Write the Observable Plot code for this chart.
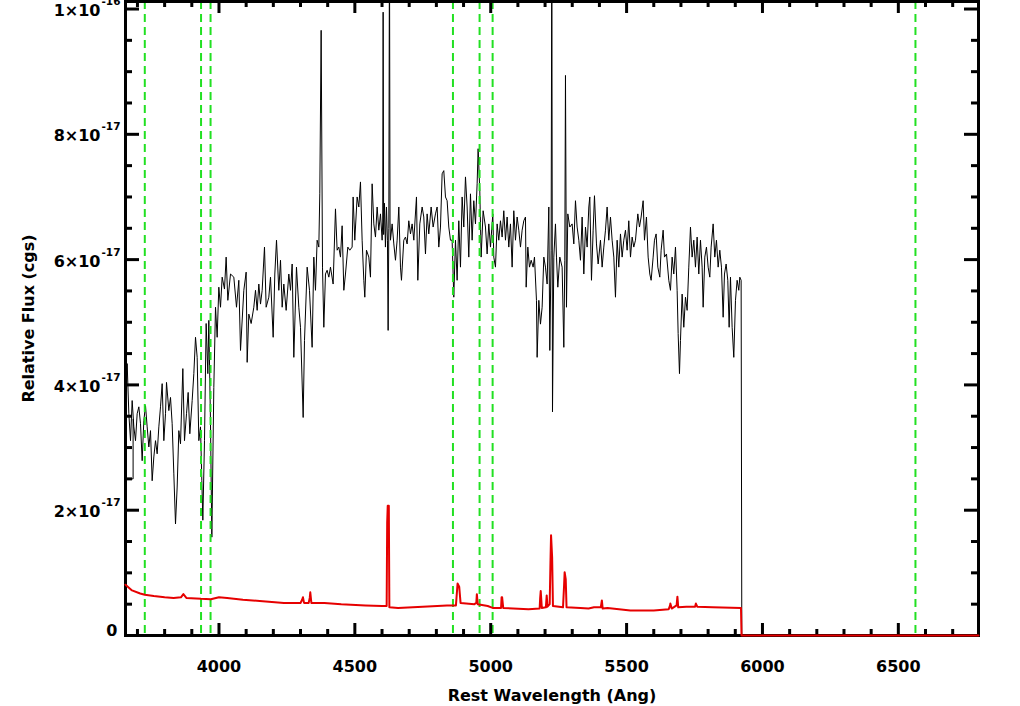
<!DOCTYPE html>
<html><head><meta charset="utf-8">
<script src="https://cdn.jsdelivr.net/npm/d3@7"></script>
<script src="https://cdn.jsdelivr.net/npm/@observablehq/plot@0.6"></script>
<style>html,body{margin:0;padding:0;background:#fff;} #chart{width:1020px;height:706px;overflow:hidden;}</style>
</head><body><div id="chart"></div>
<script>
// Flux values are in units of 1e-17 (cgs)
const blackWave = [3654,3656.0,3662.1,3668.3,3674.4,3680.5,3686.7,3692.8,3698.9,3705.1,3711.2,3717.3,3723.5,3729.6,3735.7,3741.9,3748.0,3754.1,3760.3,3766.4,3772.5,3778.7,3784.8,3790.9,3797.1,3803.2,3806.9,3815.5,3821.6,3827.7,3833.9,3840.0,3846.1,3852.3,3858.4,3867.0,3873.1,3880.5,3886.6,3892.7,3901.3,3907.5,3913.6,3919.7,3925.9,3932.0,3936.9,3940.6,3946.7,3952.8,3959.0,3962.6,3968.8,3973.7,3981.0,3987.2,3993.3,3999.4,4005.6,4011.7,4020.3,4026.4,4032.6,4042.4,4054.6,4064.5,4073.0,4079.2,4091.4,4100.0,4103.7,4109.8,4118.4,4128.2,4134.4,4140.5,4146.6,4152.8,4158.9,4167.5,4173.6,4183.4,4189.6,4199.4,4205.5,4211.7,4220.2,4226.4,4232.5,4238.6,4247.2,4257.0,4263.2,4269.3,4275.4,4285.2,4293.8,4300.0,4309.8,4314.7,4324.5,4333.1,4342.8,4349.0,4355.1,4361.2,4367.4,4371.0,4376.0,4381.0,4385.8,4391.9,4398.0,4404.2,4410.3,4420.1,4428.7,4434.8,4441.0,4447.1,4453.2,4459.4,4465.5,4474.1,4481.4,4490.0,4493.7,4499.8,4508.4,4514.6,4520.7,4526.8,4533.0,4536.6,4542.8,4551.4,4557.5,4563.6,4569.8,4575.9,4582.0,4588.2,4594.3,4600.4,4602.5,4604.1,4606.0,4609.0,4612.5,4616.4,4620.0,4622.5,4625.0,4627.4,4629.5,4631.1,4637.2,4643.4,4649.5,4655.6,4661.8,4667.9,4671.6,4680.1,4686.3,4692.4,4698.5,4704.7,4710.8,4717.0,4726.8,4731.7,4739.0,4747.6,4753.7,4759.9,4766.0,4772.1,4780.7,4788.1,4796.7,4802.8,4808.9,4815.1,4821.2,4827.3,4833.5,4839.6,4845.7,4851.9,4858.0,4864.1,4870.3,4876.4,4882.5,4888.7,4894.8,4900.9,4907.1,4913.2,4919.3,4925.5,4931.6,4937.7,4943.9,4950.0,4953.7,4959.8,4964.7,4972.1,4980.7,4986.8,4992.9,4999.1,5007.7,5011.3,5017.5,5023.6,5029.7,5035.9,5042.0,5048.1,5054.3,5060.4,5066.5,5072.7,5078.8,5084.9,5091.1,5097.2,5103.3,5109.5,5115.6,5121.8,5127.9,5130.4,5136.5,5142.6,5148.8,5156.1,5161.0,5168.4,5170.8,5177.0,5183.1,5189.2,5195.4,5201.5,5207.6,5213.8,5217.4,5222.3,5224.8,5227.3,5232.2,5238.3,5242.0,5246.9,5254.2,5262.8,5269.0,5272.6,5275.1,5278.8,5283.7,5291.0,5299.6,5305.8,5311.9,5318.0,5324.2,5330.3,5336.4,5342.6,5348.7,5354.8,5361.0,5364.6,5370.8,5376.9,5381.8,5389.2,5395.3,5403.9,5410.0,5416.2,5422.3,5428.4,5434.5,5440.7,5446.8,5453.0,5459.1,5465.2,5471.3,5477.5,5483.6,5489.7,5495.9,5502.0,5508.1,5514.3,5520.4,5526.5,5532.7,5541.3,5547.4,5553.5,5560.9,5565.8,5573.1,5579.3,5585.4,5590.3,5597.7,5602.6,5608.7,5614.9,5622.2,5627.1,5634.5,5639.4,5646.8,5655.3,5661.5,5667.6,5673.7,5679.9,5686.0,5689.7,5694.6,5698.3,5704.4,5710.5,5716.7,5722.8,5728.9,5735.1,5741.2,5747.3,5753.5,5759.6,5765.7,5771.9,5778.0,5781.7,5787.8,5793.9,5800.1,5806.2,5811.1,5818.5,5824.6,5830.7,5836.9,5843.0,5849.1,5855.3,5860.2,5866.3,5872.4,5877.4,5882.3,5888.4,5894.5,5900.7,5906.8,5912.9,5916.6,5921.5,5924.0,6800];
const blackFlux = [2.5,3.43,4.34,3.54,3.11,3.75,3.33,3.11,3.54,3.65,3.38,2.79,3.43,3.67,3.33,3.01,3.27,2.47,2.85,3.11,2.90,3.33,3.65,4.02,3.11,3.54,4.04,3.59,3.80,3.38,2.58,1.78,2.37,3.27,3.06,4.26,3.11,3.54,3.88,3.22,3.75,4.18,4.76,4.44,3.11,3.33,2.47,1.84,3.11,4.98,4.18,5.03,3.38,1.57,3.96,5.24,4.76,5.56,5.24,5.72,5.53,6.04,5.35,5.77,5.72,5.24,5.67,4.55,5.51,5.80,4.36,5.13,4.98,5.24,5.51,5.19,5.61,5.29,5.51,6.20,5.24,5.40,5.72,4.76,5.77,6.31,5.51,5.99,5.24,5.61,5.19,5.77,5.51,5.93,4.44,5.88,5.24,4.92,3.48,4.71,5.88,5.51,4.60,6.04,5.51,6.31,6.20,7.05,9.66,5.88,4.92,5.77,5.83,5.72,5.88,5.61,6.81,6.15,6.20,6.04,6.54,5.51,5.77,6.20,6.15,6.20,7.00,6.31,7.00,6.84,7.24,6.31,5.67,5.40,6.15,6.04,5.72,7.21,6.57,6.36,6.84,6.47,6.73,6.31,6.60,9.95,6.40,6.90,6.20,6.84,6.30,4.87,6.50,11.2,6.60,6.31,6.57,6.25,5.99,6.31,6.84,5.88,5.67,6.31,6.36,6.25,6.62,6.41,6.57,6.31,7.00,5.67,6.57,6.84,6.68,6.09,6.73,6.41,6.84,6.52,6.73,6.84,6.20,6.52,7.37,7.42,7.00,6.94,6.52,6.31,6.31,5.40,6.31,5.67,6.62,5.88,7.00,6.52,7.32,6.84,6.04,7.05,6.31,6.94,6.57,7.21,7.77,7.10,6.04,6.78,6.52,6.09,6.57,6.20,6.73,6.04,5.88,6.57,6.31,6.62,6.36,6.78,6.31,6.68,6.20,6.57,5.88,6.78,6.31,6.68,6.47,6.20,6.47,6.62,6.68,5.56,6.20,5.88,5.99,5.88,6.04,5.35,4.44,5.35,4.97,5.24,6.04,5.88,5.61,6.84,4.55,6.15,11.2,3.57,6.04,6.57,6.04,5.56,6.04,5.88,4.60,5.99,8.94,5.24,6.73,6.52,6.57,6.25,6.94,6.52,6.31,5.99,6.68,5.77,6.52,6.20,6.84,7.00,5.67,6.47,7.02,6.25,5.93,6.31,5.88,6.20,6.47,6.84,6.31,6.68,6.31,6.04,5.40,6.31,5.88,6.41,6.04,6.31,6.47,6.15,6.62,6.04,6.36,6.20,6.31,6.73,6.52,6.68,6.94,6.31,6.68,6.04,5.77,5.67,6.04,6.31,6.41,5.88,5.72,6.15,6.47,6.04,6.09,5.67,5.51,6.04,5.77,6.20,5.51,4.82,4.18,4.71,5.45,4.92,5.40,5.19,5.88,6.52,6.04,6.31,5.88,6.36,5.77,6.31,5.88,5.24,6.04,6.20,5.88,5.72,6.20,6.57,6.04,6.31,5.88,6.15,5.88,5.08,5.77,5.93,5.67,4.92,5.72,4.92,4.44,5.35,5.67,5.51,5.72,5.67,0,0];
// short black segment at the blue edge of the spectrum
const edgeWave = [3650, 3684, 3684];
const edgeFlux = [2.5, 2.5, 3.45];
const redWave = [3656,3680,3710,3727,3760,3800,3833,3860,3869,3880,3934,3970,4000,4030,4088,4150,4239,4300,4306,4309,4313,4330,4334,4336,4340,4388,4450,4539,4600,4617,4619,4621,4625,4627,4659,4750,4839,4872,4878,4884,4889,4940,4947,4949,4952,4989,5007,5038,5040,5042,5046,5139,5180,5182,5184,5188,5203,5206,5209,5217,5220,5222,5226,5229,5266,5270,5272,5276,5279,5330,5360,5380,5405,5409,5412,5430,5514,5600,5655,5660,5661,5666,5684,5687,5690,5720,5752,5755,5760,5816,5921,5923,6795];
const redFlux = [0.81,0.72,0.67,0.65,0.63,0.61,0.60,0.61,0.66,0.60,0.585,0.58,0.61,0.60,0.57,0.55,0.52,0.52,0.57,0.61,0.52,0.52,0.6,0.69,0.52,0.52,0.50,0.48,0.47,0.47,1.8,2.07,2.07,0.45,0.44,0.46,0.48,0.48,0.83,0.78,0.52,0.50,0.52,0.66,0.50,0.47,0.44,0.44,0.61,0.61,0.44,0.42,0.43,0.6,0.71,0.44,0.45,0.64,0.46,0.5,1.2,1.60,1.25,0.47,0.45,0.8,1.01,0.9,0.45,0.44,0.43,0.45,0.45,0.56,0.43,0.44,0.40,0.40,0.42,0.48,0.51,0.43,0.48,0.62,0.45,0.46,0.46,0.51,0.46,0.45,0.44,0,0];
// reference lines: [OII], CaK, CaH, Hbeta, [OIII], [OIII], Halpha
const lineWave = [3727, 3934, 3969, 4861, 4959, 5007, 6563];
const xDomain = [3656, 6795];
const yDomain = [0, 10.12];
const xMajor = [4000, 4500, 5000, 5500, 6000, 6500];
const xTickLabels = ["4000", "4500", "5000", "5500", "6000", "6500"];
const xMinor = [3700,3800,3900,4100,4200,4300,4400,4600,4700,4800,4900,5100,5200,5300,5400,5600,5700,5800,5900,6100,6200,6300,6400,6600,6700];
const yMajor = [0, 2, 4, 6, 8, 10];
const yTickText = ["0", "2×10", "4×10", "6×10", "8×10", "1×10"];
const yTickExp = ["", "-17", "-17", "-17", "-17", "-16"];
const yMinor = [0.5,1,1.5,2.5,3,3.5,4.5,5,5.5,6.5,7,7.5,8.5,9,9.5];
const xTitle = "Rest Wavelength (Ang)";
const yTitle = "Relative Flux (cgs)";

const black = blackWave.map((w, i) => ({w, f: blackFlux[i]}));
const edge = edgeWave.map((w, i) => ({w, f: edgeFlux[i]}));
const red = redWave.map((w, i) => ({w, f: redFlux[i]}));
const yLab = yMajor.map((v, i) => ({v, t: yTickText[i], e: yTickExp[i]}));
const yLabExp = yLab.filter(d => d.e);
const yLabZero = yLab.filter(d => !d.e);
const xLab = xMajor.map((v, i) => ({v, t: xTickLabels[i]}));

const W = 1020, H = 706, mL = 125, mR = 42, mT = 1, mB = 71;
const fw = W - mL - mR, fh = H - mT - mB;
const FONT = "DejaVu Sans";
const txt = {fontFamily: FONT, fontWeight: "bold", fill: "black"};

const plot = Plot.plot({
  width: W, height: H,
  marginLeft: mL, marginRight: mR, marginTop: mT, marginBottom: mB,
  x: {domain: xDomain, axis: null},
  y: {domain: yDomain, axis: null},
  style: {background: "white", overflow: "visible"},
  marks: [
    Plot.line(black, {x: "w", y: "f", stroke: "black", strokeWidth: 1, clip: true}),
    Plot.line(edge, {x: "w", y: "f", stroke: "black", strokeWidth: 1, clip: true}),
    Plot.ruleX(lineWave, {x: d => d, stroke: "#22e022", strokeWidth: 2, strokeDasharray: "8,5"}),
    Plot.frame({stroke: "black", strokeWidth: 3}),
    Plot.tickX(xMajor, {x: d => d, insetTop: fh - 12, stroke: "black", strokeWidth: 3}),
    Plot.tickX(xMajor, {x: d => d, insetBottom: fh - 12, stroke: "black", strokeWidth: 3}),
    Plot.tickX(xMinor, {x: d => d, insetTop: fh - 6, stroke: "black", strokeWidth: 3}),
    Plot.tickX(xMinor, {x: d => d, insetBottom: fh - 6, stroke: "black", strokeWidth: 3}),
    Plot.tickY(yMajor, {y: d => d, insetRight: fw - 14, stroke: "black", strokeWidth: 3}),
    Plot.tickY(yMajor, {y: d => d, insetLeft: fw - 14, stroke: "black", strokeWidth: 3}),
    Plot.tickY(yMinor, {y: d => d, insetRight: fw - 7, stroke: "black", strokeWidth: 3}),
    Plot.tickY(yMinor, {y: d => d, insetLeft: fw - 7, stroke: "black", strokeWidth: 3}),
    Plot.line(red, {x: "w", y: "f", stroke: "#e60000", strokeWidth: 2}),
    Plot.text(xLab, {x: "v", text: "t", frameAnchor: "bottom", dy: 36, lineAnchor: "bottom", fontSize: 16, ...txt}),
    Plot.text(yLabExp, {y: "v", text: "t", frameAnchor: "left", dx: -25, dy: 7, textAnchor: "end", lineAnchor: "bottom", fontSize: 16, ...txt}),
    Plot.text(yLabExp, {y: "v", text: "e", frameAnchor: "left", dx: -24, dy: -4, textAnchor: "start", lineAnchor: "bottom", fontSize: 10.5, ...txt}),
    Plot.text(yLabZero, {y: "v", text: "t", frameAnchor: "left", dx: -8, dy: 0, textAnchor: "end", lineAnchor: "bottom", fontSize: 16, ...txt}),
    Plot.text([xTitle], {text: d => d, frameAnchor: "bottom", dy: 65, lineAnchor: "bottom", fontSize: 16, ...txt}),
    Plot.text([yTitle], {text: d => d, frameAnchor: "left", dx: -92, rotate: -90, textAnchor: "middle", lineAnchor: "bottom", fontSize: 16, ...txt})
  ]
});
document.getElementById("chart").append(plot);
</script>
</body></html>
